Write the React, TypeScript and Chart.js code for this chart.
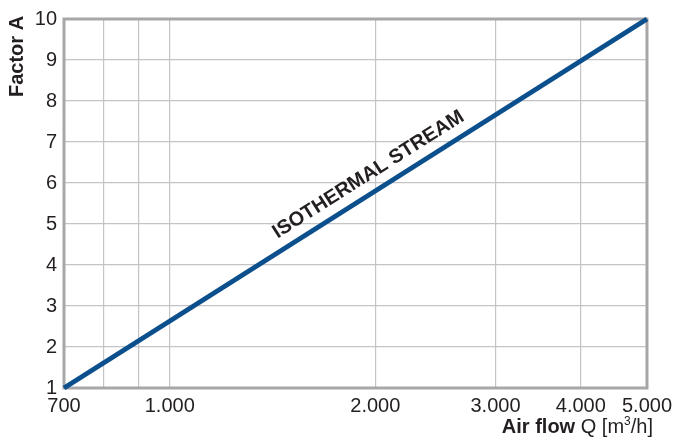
import React, { useEffect, useRef } from "react";
import { Chart, registerables } from "chart.js";

Chart.register(...registerables);

// ---- data ----
const airFlow = [700, 5000];
const factorA = [1, 10];
const xGridValues = [700, 800, 900, 1000, 2000, 3000, 4000, 5000];
const xTickLabels = ["700", "", "", "1.000", "2.000", "3.000", "4.000", "5.000"];
const yMin = 1;
const yMax = 10;
const streamLabel = "ISOTHERMAL STREAM";
const streamLabelAt = 2017;
const yTitle = "Factor A";
const xTitleBold = "Air flow";
const xTitleUnit = ["Q [m", "3", "/h]"];

const FONT = "'Liberation Sans', Arial, Helvetica, sans-serif";
const TEXT = "#231f20";

const decorPlugin = {
  id: "decor",
  beforeDatasetsDraw(chart: any) {
    const { ctx, chartArea: a } = chart;
    ctx.save();
    ctx.strokeStyle = "#a7a7a9";
    ctx.lineWidth = 3;
    ctx.strokeRect(a.left, a.top, a.right - a.left, a.bottom - a.top);
    ctx.restore();
  },
  afterDraw(chart: any) {
    const { ctx, scales, chartArea: a } = chart;
    const xs = scales.x;
    const ys = scales.y;
    const x0 = xs.getPixelForValue(airFlow[0]);
    const y0 = ys.getPixelForValue(factorA[0]);
    const x1 = xs.getPixelForValue(airFlow[1]);
    const y1 = ys.getPixelForValue(factorA[1]);
    const angle = Math.atan2(y1 - y0, x1 - x0);
    const t = (xs.getPixelForValue(streamLabelAt) - x0) / (x1 - x0);
    const px = x0 + t * (x1 - x0);
    const py = y0 + t * (y1 - y0);
    ctx.save();
    ctx.translate(px, py);
    ctx.rotate(angle);
    ctx.font = `bold 20px ${FONT}`;
    ctx.fillStyle = TEXT;
    ctx.textAlign = "center";
    ctx.textBaseline = "alphabetic";
    ctx.fillText(streamLabel, 0, -12);
    ctx.restore();

    // y title
    ctx.save();
    ctx.translate(23, 97);
    ctx.rotate(-Math.PI / 2);
    ctx.font = `bold 20px ${FONT}`;
    ctx.fillStyle = TEXT;
    ctx.textAlign = "left";
    ctx.textBaseline = "alphabetic";
    ctx.fillText(yTitle, 0, 0);
    ctx.restore();

    // x title, right aligned
    ctx.save();
    ctx.fillStyle = TEXT;
    ctx.textBaseline = "alphabetic";
    ctx.textAlign = "left";
    const bold = `bold 20px ${FONT}`;
    const reg = `20px ${FONT}`;
    const sup = `12px ${FONT}`;
    ctx.font = bold;
    const w0 = ctx.measureText(xTitleBold + " ").width;
    ctx.font = reg;
    const w1 = ctx.measureText(xTitleUnit[0]).width;
    ctx.font = sup;
    const w2 = ctx.measureText(xTitleUnit[1]).width;
    ctx.font = reg;
    const w3 = ctx.measureText(xTitleUnit[2]).width;
    const right = a.right + 6;
    const base = 433;
    let x = right - (w0 + w1 + w2 + w3);
    ctx.font = bold;
    ctx.fillText(xTitleBold + " ", x, base);
    x += w0;
    ctx.font = reg;
    ctx.fillText(xTitleUnit[0], x, base);
    x += w1;
    ctx.font = sup;
    ctx.fillText(xTitleUnit[1], x, base - 8);
    x += w2;
    ctx.font = reg;
    ctx.fillText(xTitleUnit[2], x, base);
    ctx.restore();
  },
};

export default function App() {
  const ref = useRef<HTMLCanvasElement | null>(null);
  useEffect(() => {
    if (!ref.current) return;
    const chart = new Chart(ref.current, {
      type: "line",
      data: {
        datasets: [
          {
            data: airFlow.map((q, i) => ({ x: q, y: factorA[i] })),
            borderColor: "#0b4f8c",
            borderWidth: 5,
            pointRadius: 0,
            tension: 0,
            clip: 4,
          },
        ],
      },
      options: {
        animation: false,
        responsive: false,
        maintainAspectRatio: false,
        layout: { padding: { left: 0, top: 16, right: 30, bottom: 0 } },
        plugins: { legend: { display: false }, tooltip: { enabled: false } },
        scales: {
          x: {
            type: "logarithmic",
            min: xGridValues[0],
            max: xGridValues[xGridValues.length - 1],
            afterBuildTicks: (s: any) => {
              s.ticks = xGridValues.map((v) => ({ value: v }));
            },
            afterFit: (s: any) => {
              s.height = 55;
            },
            ticks: {
              autoSkip: false,
              maxRotation: 0,
              padding: 6,
              color: TEXT,
              font: { family: FONT, size: 20 },
              callback: (_v: any, i: number) => xTickLabels[i],
            },
            grid: { color: "#c4c4c6", lineWidth: 1.2, drawTicks: false },
            border: { display: false },
          },
          y: {
            type: "linear",
            min: yMin,
            max: yMax,
            afterFit: (s: any) => {
              s.width = 64;
            },
            ticks: {
              stepSize: 1,
              padding: 7,
              color: TEXT,
              font: { family: FONT, size: 20 },
            },
            grid: { color: "#c4c4c6", lineWidth: 1.2, drawTicks: false },
            border: { display: false },
          },
        },
      },
      plugins: [decorPlugin],
    } as any);
    return () => chart.destroy();
  }, []);
  return (
    <div style={{ position: "fixed", left: 0, top: 0, width: 678, height: 443, background: "#fff" }}>
      <canvas ref={ref} width={678} height={443} style={{ display: "block" }} />
    </div>
  );
}
